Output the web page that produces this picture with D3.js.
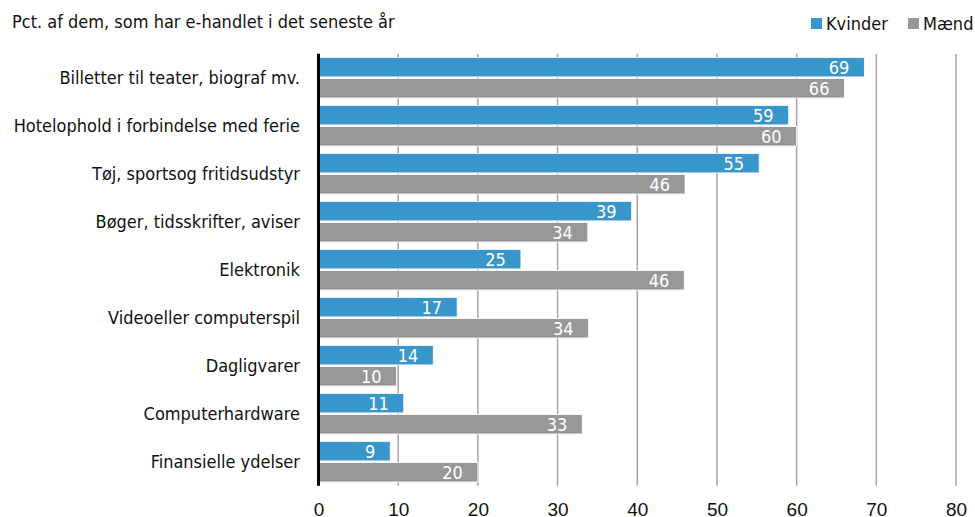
<!DOCTYPE html>
<html>
<head>
  <meta charset="utf-8">
  <title>E-handel efter køn</title>
  <script src="https://d3js.org/d3.v7.min.js"></script>
  <style>
    body { margin: 0; background: #fff; }
    svg { font-family: "Liberation Sans Narrow", "DejaVu Sans Condensed", sans-serif; }
    .val { fill: #fff; font-size: 18px; }
    .cat { fill: #111; font-size: 18px; }
    .tick text { font-size: 19px; fill: #111; }
  </style>
</head>
<body>
  <script>
    var categories = [
      "Billetter til teater, biograf mv.",
      "Hotelophold i forbindelse med ferie",
      "Tøj, sportsog fritidsudstyr",
      "Bøger, tidsskrifter, aviser",
      "Elektronik",
      "Videoeller computerspil",
      "Dagligvarer",
      "Computerhardware",
      "Finansielle ydelser"
    ];
    var series = ["Kvinder", "Mænd"];
    var kvinder = [68.5, 59.0, 55.3, 39.3, 25.4, 17.4, 14.4, 10.7, 9.0];
    var maend = [66.0, 60.0, 46.0, 33.8, 45.9, 33.9, 9.8, 33.1, 20.0];
    var ticks = [0, 10, 20, 30, 40, 50, 60, 70, 80];

    var colors = { "Kvinder": "#3996cb", "Mænd": "#989898" };

    var width = 975, height = 517;
    var svg = d3.select("body").append("svg")
      .attr("width", width)
      .attr("height", height);

    var x = d3.scaleLinear().domain([0, 80]).range([318.5, 956]);
    var y = d3.scaleBand().domain(categories).range([53.7, 485.7]);

    // gridlines
    svg.append("g")
      .selectAll("line")
      .data(ticks.slice(1))
      .enter()
      .append("line")
      .attr("x1", d => x(d)).attr("x2", d => x(d))
      .attr("y1", y.range()[0]).attr("y2", y.range()[1])
      .attr("stroke", "#a6a6a6")
      .attr("stroke-width", 1.5);

    var rows = categories.map((c, i) => ({ cat: c, values: [kvinder[i], maend[i]] }));

    var groups = svg.append("g")
      .selectAll("g")
      .data(rows)
      .enter()
      .append("g")
      .attr("transform", d => "translate(0," + (y(d.cat) + y.bandwidth() / 2) + ")");

    var barH = 19.5;
    groups.selectAll("rect")
      .data(d => d.values.map((v, j) => ({ v: v, s: series[j], j: j })))
      .enter()
      .append("rect")
      .attr("x", x(0))
      .attr("y", d => d.j === 0 ? -barH - 0.8 : 0.8)
      .attr("width", d => x(d.v) - x(0))
      .attr("height", barH)
      .attr("fill", d => colors[d.s])
      .attr("stroke", "#fff")
      .attr("stroke-width", 0.8);

    groups.selectAll("text.val")
      .data(d => d.values.map((v, j) => ({ v: v, j: j })))
      .enter()
      .append("text")
      .attr("class", "val")
      .attr("x", d => x(d.v) - 15)
      .attr("y", d => d.j === 0 ? -barH / 2 - 0.8 : barH / 2 + 0.8)
      .attr("dy", "0.36em")
      .attr("text-anchor", "end")
      .text(d => Math.round(d.v));

    groups.append("text")
      .attr("class", "cat")
      .attr("x", 300)
      .attr("dy", "0.36em")
      .attr("text-anchor", "end")
      .text(d => d.cat);

    // y axis line
    svg.append("line")
      .attr("x1", x(0)).attr("x2", x(0))
      .attr("y1", y.range()[0]).attr("y2", y.range()[1])
      .attr("stroke", "#000")
      .attr("stroke-width", 3);

    // x axis labels
    var xAxis = d3.axisBottom(x).tickValues(ticks).tickSize(0).tickPadding(17);
    var gx = svg.append("g")
      .attr("transform", "translate(0," + y.range()[1] + ")")
      .call(xAxis);
    gx.select(".domain").remove();
    gx.selectAll(".tick text").attr("font-family", null).attr("font-size", null);

    // title
    svg.append("text")
      .attr("x", 12).attr("y", 28)
      .attr("font-size", 18)
      .attr("fill", "#111")
      .text("Pct. af dem, som har e-handlet i det seneste år");

    // legend
    var legendX = [811, 908];
    var legend = svg.append("g")
      .selectAll("g")
      .data(series)
      .enter()
      .append("g")
      .attr("transform", (d, i) => "translate(" + legendX[i] + ",18)");
    legend.append("rect")
      .attr("width", 11).attr("height", 11)
      .attr("fill", d => colors[d]);
    legend.append("text")
      .attr("x", 15).attr("y", 5.5)
      .attr("dy", "0.36em")
      .attr("font-size", 18)
      .attr("fill", "#111")
      .text(d => d);
  </script>
</body>
</html>
